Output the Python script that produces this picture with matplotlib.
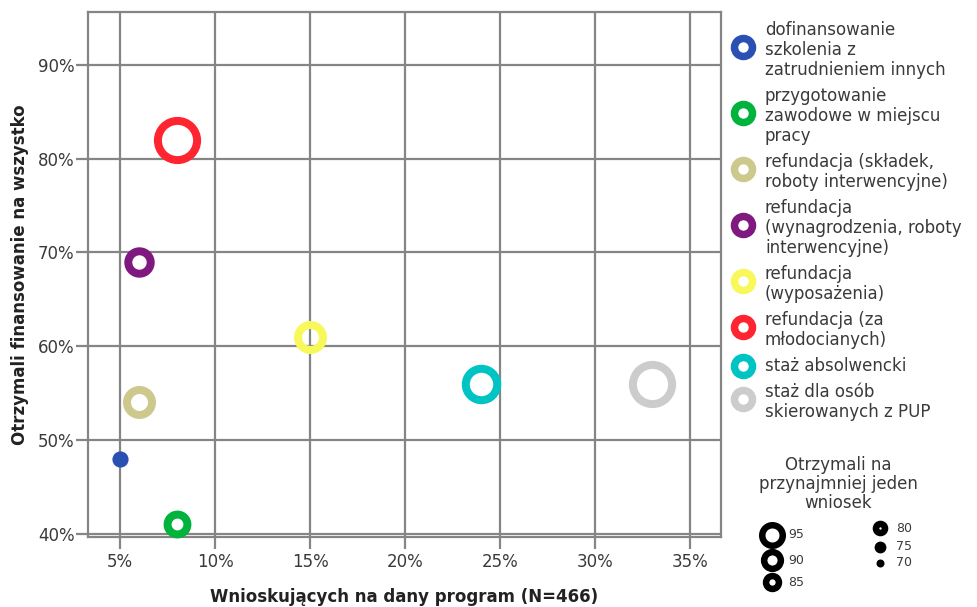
import matplotlib
matplotlib.use('Agg')
import matplotlib.pyplot as plt
from matplotlib.lines import Line2D
from matplotlib.ticker import FuncFormatter, FixedLocator

# ---------------- data ----------------
categories = [
    "dofinansowanie\nszkolenia z\nzatrudnieniem innych",
    "przygotowanie\nzawodowe w miejscu\npracy",
    "refundacja (składek,\nroboty interwencyjne)",
    "refundacja\n(wynagrodzenia, roboty\ninterwencyjne)",
    "refundacja\n(wyposażenia)",
    "refundacja (za\nmłodocianych)",
    "staż absolwencki",
    "staż dla osób\nskierowanych z PUP",
]
applicants_pct = [5, 8, 6, 6, 15, 8, 24, 33]          # x
funded_all_pct = [48, 41, 54, 69, 61, 82, 56, 56]     # y
at_least_one_pct = [72, 81, 85, 83, 85, 96, 90, 96]   # bubble size
colors = ["#2b50b4", "#00b33c", "#cdc88c", "#80197f",
          "#f8f85a", "#ff2530", "#00c4c4", "#cccccc"]
size_legend_values = [95, 90, 85, 80, 75, 70]
x_ticks = [5, 10, 15, 20, 25, 30, 35]
y_ticks = [40, 50, 60, 70, 80, 90]

xlabel = "Wnioskujących na dany program (N=466)"
ylabel = "Otrzymali finansowanie na wszystko"
size_title = ["Otrzymali na", "przynajmniej jeden", "wniosek"]

# ---------------- figure ----------------
W, H = 977, 607
DPI = 100
PT = 72.0 / DPI  # points per pixel
plt.rcParams['font.family'] = ['DejaVu Sans']

fig = plt.figure(figsize=(W / DPI, H / DPI), dpi=DPI)
fig.patch.set_facecolor('white')

L, R, T, B = 88, 721, 12, 537
ax = fig.add_axes([L / W, 1 - B / H, (R - L) / W, (B - T) / H])
ax.set_xlim(3.316, 36.63)
ax.set_ylim(39.65, 95.65)

gcol = '#858585'
ax.xaxis.set_major_locator(FixedLocator(x_ticks))
ax.yaxis.set_major_locator(FixedLocator(y_ticks))
pct = FuncFormatter(lambda v, p: f"{v:.0f}%")
ax.xaxis.set_major_formatter(pct)
ax.yaxis.set_major_formatter(pct)
ax.grid(True, color=gcol, lw=1.6, zorder=0)
ax.set_axisbelow(True)
for s in ax.spines.values():
    s.set_color(gcol)
    s.set_linewidth(1.6)
ax.tick_params(axis='both', direction='out', length=8.6,
               width=1.6, color=gcol, labelsize=12, labelcolor='#3a3a3a')
ax.tick_params(axis='y', pad=1)
ax.tick_params(axis='x', pad=3)


def d_leg(v):
    return 8 + 0.76 * (v - 70)


def d_plot(v):
    return 1.7 * d_leg(v)


def ring(D, w):
    """marker kwargs for a ring of outer diameter D px and edge width w px"""
    if D - 2 * w < 1.5:
        return dict(ms=D * PT, mew=0, mfc=None)
    return dict(ms=(D - w) * PT, mew=w * PT, mfc='none')


w_plot = 8.0
for x, y, v, c in zip(applicants_pct, funded_all_pct, at_least_one_pct, colors):
    kw = ring(d_plot(v), w_plot)
    mfc = c if kw['mfc'] is None else 'none'
    ax.plot([x], [y], 'o', ms=kw['ms'], mew=kw['mew'],
            mec=c, mfc=mfc, zorder=3, clip_on=False)

# axis titles
fig.text(404 / W, 1 - 597 / H, xlabel, ha='center', va='center',
         fontsize=12, fontweight='bold', color='#222222')
fig.text(20 / W, 1 - 275 / H, ylabel, ha='center', va='center', rotation=90,
         fontsize=12, fontweight='bold', color='#222222')

# ---------------- color legend ----------------
line_pitch = 20
entry_gap = 26
y_line = 30
mx, tx = 743, 765
w_leg = 7.5
D_leg_marker = 25.5
for cat, c in zip(categories, colors):
    lines = cat.split("\n")
    ys = [y_line + i * line_pitch for i in range(len(lines))]
    for yy, ln in zip(ys, lines):
        fig.text(tx / W, 1 - yy / H, ln, ha='left', va='center',
                 fontsize=12, color='#3a3a3a')
    my = (ys[0] + ys[-1]) / 2 - 3 if len(lines) > 1 else ys[0]
    fig.add_artist(Line2D([mx / W], [1 - my / H], marker='o',
                          ms=(D_leg_marker - w_leg) * PT, mew=w_leg * PT,
                          mec=c, mfc='none', transform=fig.transFigure))
    y_line = ys[-1] + entry_gap

# ---------------- size legend ----------------
for i, t in enumerate(size_title):
    fig.text(838 / W, 1 - (465 + i * 19) / H, t, ha='center', va='center',
             fontsize=12, color='#3a3a3a')

pos = {95: (772, 535), 90: (772, 560), 85: (772, 582),
       80: (880, 528), 75: (880, 547), 70: (880, 563)}
w_sl = 6.5
for v in size_legend_values:
    px, py = pos[v]
    fig.text((px + 16) / W, 1 - py / H, f"{v}",
             ha='left', va='center', fontsize=9, color='#3a3a3a', zorder=1)
    kw = ring(d_leg(v), w_sl)
    mfc = 'black' if kw['mfc'] is None else 'none'
    fig.add_artist(Line2D([px / W], [1 - py / H], marker='o',
                          ms=kw['ms'], mew=kw['mew'], mec='black', mfc=mfc,
                          transform=fig.transFigure, zorder=2))

fig.savefig('out.png', dpi=DPI, facecolor='white')
